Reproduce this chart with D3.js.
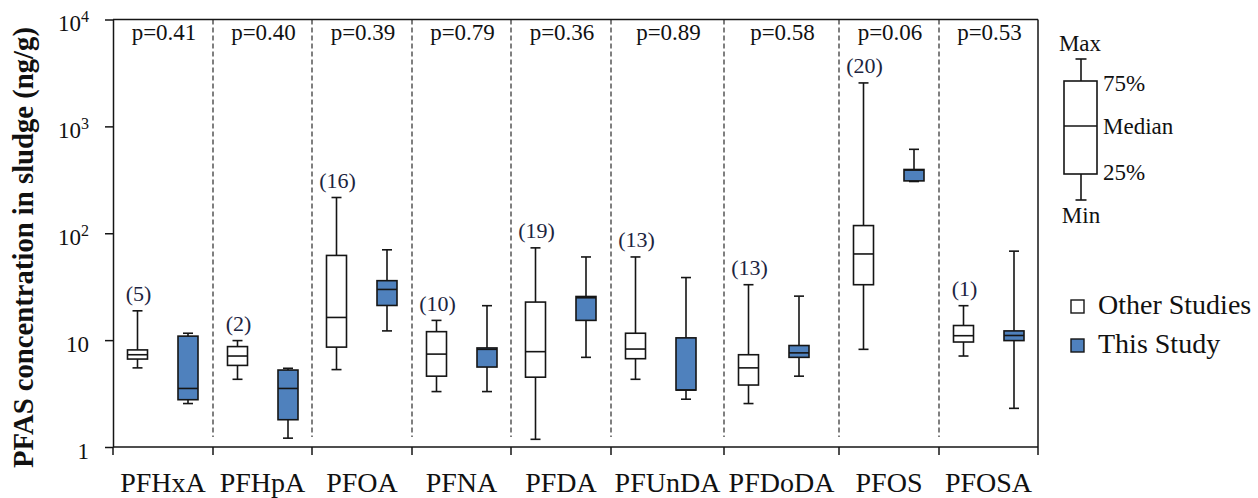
<!DOCTYPE html>
<html>
<head>
<meta charset="utf-8">
<script src="https://cdn.jsdelivr.net/npm/d3@7"></script>
<style>
  html, body { margin: 0; padding: 0; background: #fff; }
  svg { display: block; font-family: "Liberation Serif", "Times New Roman", serif; }
  svg text { font-family: "Liberation Serif", "Times New Roman", serif; fill: #111; }
</style>
</head>
<body>
<svg id="chart" width="1258" height="498"></svg>
<script>
// ---------------- DATA ----------------
const categories = ["PFHxA", "PFHpA", "PFOA", "PFNA", "PFDA", "PFUnDA", "PFDoDA", "PFOS", "PFOSA"];
const pLabels = ["p=0.41", "p=0.40", "p=0.39", "p=0.79", "p=0.36", "p=0.89", "p=0.58", "p=0.06", "p=0.53"];
const nStudies = [5, 2, 16, 10, 19, 13, 13, 20, 1];

// Other Studies (ng/g)
const otherMin = [5.5, 4.3, 5.3, 3.3, 1.18, 4.3, 2.55, 8.2, 7.1];
const otherQ1  = [6.65, 5.8, 8.6, 4.6, 4.5, 6.7, 3.8, 33, 9.6];
const otherMed = [7.3, 7.1, 16.3, 7.4, 7.8, 8.25, 5.5, 64, 11.0];
const otherQ3  = [8.1, 8.7, 62, 12.0, 22.7, 11.6, 7.3, 118, 13.7];
const otherMax = [18.8, 9.9, 216, 15.3, 73, 60, 33, 2550, 21];

// This Study (ng/g)
const studyMin = [2.55, 1.21, 12.2, 3.3, 6.9, 2.8, 4.6, 305, 2.3];
const studyQ1  = [2.77, 1.8, 21.1, 5.6, 15.3, 3.41, 6.9, 309, 9.9];
const studyMed = [3.53, 3.53, 29.8, 8.2, 24.9, 3.41, 7.6, 390, 11.05];
const studyQ3  = [10.9, 5.25, 36, 8.45, 25.6, 10.5, 8.9, 395, 12.2];
const studyMax = [11.6, 5.45, 70, 21, 60, 38.5, 25.8, 610, 68];

const yTicks = [1, 10, 100, 1000, 10000];
const yTitle = "PFAS concentration in sludge (ng/g)";
const seriesNames = ["Other Studies", "This Study"];
const legendKeyLabels = ["Max", "75%", "Median", "25%", "Min"];

// ---------------- LAYOUT ----------------
const catUnits = [100, 99, 100, 99, 100, 113, 115, 100, 99]; // relative category widths
const plot = { left: 113, right: 1038, top: 19.5, bottom: 447 };
const boxW = 20, capW = 10;
const blue = "#4f81bd", ink = "#151515";

const svg = d3.select("#chart");

const cum = [0];
catUnits.forEach(u => cum.push(cum[cum.length - 1] + u));
const x = d3.scaleLinear().domain([0, cum[cum.length - 1]]).range([plot.left, plot.right]);
const y = d3.scaleLog().domain([1, 10000]).range([plot.bottom, plot.top]);

const catStart = i => x(cum[i]);
const otherX = i => x(cum[i] + 24.5);
const studyX = i => x(cum[i] + 75);

// dashed separators
svg.append("g").selectAll("line")
  .data(d3.range(1, categories.length))
  .join("line")
  .attr("x1", i => catStart(i)).attr("x2", i => catStart(i))
  .attr("y1", plot.top).attr("y2", plot.bottom - 10)
  .attr("stroke", "#555").attr("stroke-width", 1.5)
  .attr("stroke-dasharray", "5,3");

// frame top & right
svg.append("line").attr("x1", plot.left).attr("x2", plot.right)
  .attr("y1", plot.top).attr("y2", plot.top).attr("stroke", ink).attr("stroke-width", 1.5);
svg.append("line").attr("x1", plot.right).attr("x2", plot.right)
  .attr("y1", plot.top).attr("y2", plot.bottom).attr("stroke", ink).attr("stroke-width", 1.5);

// y axis
const yAxis = d3.axisLeft(y).tickValues(yTicks).tickSize(8).tickSizeOuter(0).tickFormat("");
const yg = svg.append("g").attr("transform", `translate(${plot.left},0)`).call(yAxis)
  .attr("font-family", null);
yg.selectAll("path, line").attr("stroke", ink).attr("stroke-width", 1.5);
yg.selectAll(".tick").each(function(d) {
  const t = d3.select(this).append("text")
    .attr("x", -24).attr("y", 11)
    .attr("text-anchor", "end")
    .style("font-size", "23px").attr("fill", ink);
  const e = Math.round(Math.log10(d));
  if (e <= 1) {
    t.text(String(d));
  } else {
    t.append("tspan").text("10");
    t.append("tspan").attr("dy", -9).style("font-size", "16px").text(String(e));
  }
});

// x axis
svg.append("line").attr("x1", plot.left).attr("x2", plot.right)
  .attr("y1", plot.bottom).attr("y2", plot.bottom).attr("stroke", ink).attr("stroke-width", 1.5);
svg.append("g").selectAll("line")
  .data(d3.range(0, categories.length + 1))
  .join("line")
  .attr("x1", i => catStart(i)).attr("x2", i => catStart(i))
  .attr("y1", plot.bottom).attr("y2", plot.bottom + 8)
  .attr("stroke", ink).attr("stroke-width", 1.5);
svg.append("g").selectAll("text")
  .data(categories)
  .join("text")
  .attr("x", (d, i) => (catStart(i) + catStart(i + 1)) / 2)
  .attr("y", 492)
  .attr("text-anchor", "middle")
  .style("font-size", "28px")
  .text(d => d);

// y title
svg.append("text")
  .attr("transform", `translate(33,247.5) rotate(-90)`)
  .attr("text-anchor", "middle")
  .style("font-size", "28.7px").style("font-weight", "bold")
  .text(yTitle);

// p labels
svg.append("g").selectAll("text")
  .data(pLabels)
  .join("text")
  .attr("x", (d, i) => (catStart(i) + catStart(i + 1)) / 2 + 1)
  .attr("y", 40)
  .attr("text-anchor", "middle")
  .style("font-size", "23px")
  .text(d => d);

// box drawing
function drawBoxes(cls, cx, mins, q1s, meds, q3s, maxs, fill) {
  const g = svg.append("g").attr("class", cls);
  const items = categories.map((c, i) => ({ i, min: mins[i], q1: q1s[i], med: meds[i], q3: q3s[i], max: maxs[i] }));
  const b = g.selectAll("g").data(items).join("g");
  b.append("line").attr("x1", d => cx(d.i)).attr("x2", d => cx(d.i))
    .attr("y1", d => y(d.max)).attr("y2", d => y(d.q3)).attr("stroke", ink).attr("stroke-width", 1.6);
  b.append("line").attr("x1", d => cx(d.i)).attr("x2", d => cx(d.i))
    .attr("y1", d => y(d.q1)).attr("y2", d => y(d.min)).attr("stroke", ink).attr("stroke-width", 1.6);
  b.append("line").attr("x1", d => cx(d.i) - capW / 2).attr("x2", d => cx(d.i) + capW / 2)
    .attr("y1", d => y(d.max)).attr("y2", d => y(d.max)).attr("stroke", ink).attr("stroke-width", 1.6);
  b.append("line").attr("x1", d => cx(d.i) - capW / 2).attr("x2", d => cx(d.i) + capW / 2)
    .attr("y1", d => y(d.min)).attr("y2", d => y(d.min)).attr("stroke", ink).attr("stroke-width", 1.6);
  b.append("rect").attr("x", d => cx(d.i) - boxW / 2).attr("width", boxW)
    .attr("y", d => y(d.q3)).attr("height", d => Math.max(1, y(d.q1) - y(d.q3)))
    .attr("fill", fill).attr("stroke", ink).attr("stroke-width", 1.6);
  b.append("line").attr("x1", d => cx(d.i) - boxW / 2).attr("x2", d => cx(d.i) + boxW / 2)
    .attr("y1", d => y(d.med)).attr("y2", d => y(d.med)).attr("stroke", ink).attr("stroke-width", 1.6);
}
drawBoxes("other", otherX, otherMin, otherQ1, otherMed, otherQ3, otherMax, "#fff");
drawBoxes("study", studyX, studyMin, studyQ1, studyMed, studyQ3, studyMax, blue);

// n labels
svg.append("g").selectAll("text")
  .data(nStudies)
  .join("text")
  .attr("x", (d, i) => otherX(i) + 1)
  .attr("y", (d, i) => y(otherMax[i]) - 9.5)
  .attr("text-anchor", "middle")
  .style("font-size", "22px").style("fill", "#1c2440")
  .text(d => `(${d})`);

// key box legend
const kx = 1081, kBoxL = 1064, kBoxR = 1097;
const key = { max: 59, q3: 81, med: 126, q1: 174, min: 200 };
const kg = svg.append("g");
kg.append("line").attr("x1", kx).attr("x2", kx).attr("y1", key.max).attr("y2", key.q3).attr("stroke", ink).attr("stroke-width", 1.6);
kg.append("line").attr("x1", kx).attr("x2", kx).attr("y1", key.q1).attr("y2", key.min).attr("stroke", ink).attr("stroke-width", 1.6);
kg.append("line").attr("x1", kx - 5.5).attr("x2", kx + 5.5).attr("y1", key.max).attr("y2", key.max).attr("stroke", ink).attr("stroke-width", 1.6);
kg.append("line").attr("x1", kx - 5.5).attr("x2", kx + 5.5).attr("y1", key.min).attr("y2", key.min).attr("stroke", ink).attr("stroke-width", 1.6);
kg.append("rect").attr("x", kBoxL).attr("y", key.q3).attr("width", kBoxR - kBoxL).attr("height", key.q1 - key.q3)
  .attr("fill", "#fff").attr("stroke", ink).attr("stroke-width", 1.6);
kg.append("line").attr("x1", kBoxL).attr("x2", kBoxR).attr("y1", key.med).attr("y2", key.med).attr("stroke", ink).attr("stroke-width", 1.6);
const keyPos = [
  { x: 1080, y: 51, a: "middle" },
  { x: 1103, y: 91, a: "start" },
  { x: 1103, y: 134, a: "start" },
  { x: 1103, y: 180, a: "start" },
  { x: 1081, y: 223, a: "middle" }
];
kg.selectAll("text.k").data(legendKeyLabels).join("text").attr("class", "k")
  .attr("x", (d, i) => keyPos[i].x).attr("y", (d, i) => keyPos[i].y)
  .attr("text-anchor", (d, i) => keyPos[i].a)
  .style("font-size", "23px").text(d => d);

// series legend
const lg = svg.append("g");
const legRows = seriesNames.map((n, i) => ({ n, fill: i === 0 ? "#fff" : blue, y: 300 + i * 39 }));
lg.selectAll("rect").data(legRows).join("rect")
  .attr("x", 1071).attr("y", d => d.y).attr("width", 13).attr("height", 13)
  .attr("fill", d => d.fill).attr("stroke", ink).attr("stroke-width", 1.4);
lg.selectAll("text").data(legRows).join("text")
  .attr("x", 1098).attr("y", d => d.y + 14)
  .style("font-size", "28px").text(d => d.n);
</script>
</body>
</html>
